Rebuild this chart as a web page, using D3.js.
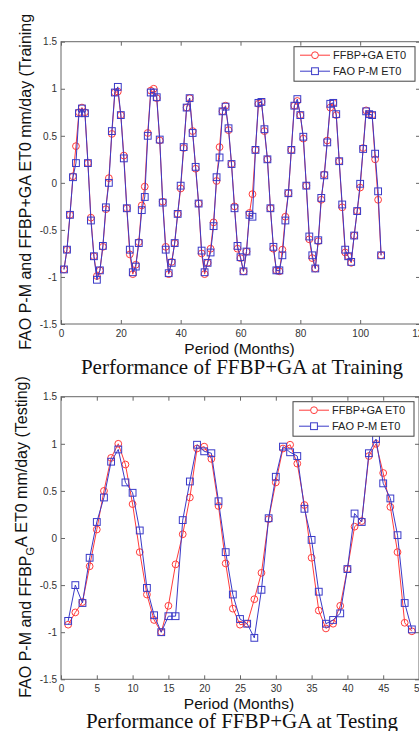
<!DOCTYPE html>
<html>
<head>
<meta charset="utf-8">
<script src="https://cdn.jsdelivr.net/npm/d3@7"></script>
<style>
  body { margin: 0; background: #fff; }
  text { font-family: "Liberation Sans", Arial, sans-serif; }
</style>
</head>
<body>
<svg id="chart" width="419" height="731"></svg>
<script>
// values, month 1..N
const trainFfbp = [
  -0.92, -0.71, -0.34, 0.07, 0.39, 0.75, 0.80, 0.75, 0.21, -0.37, -0.78, -0.99,
  -0.93, -0.68, -0.28, 0.05, 0.52, 0.96, 0.97, 0.72, 0.29, -0.27, -0.76, -0.97,
  -0.87, -0.63, -0.24, -0.04, 0.53, 0.98, 1.00, 0.90, 0.45, -0.20, -0.68, -0.97,
  -0.84, -0.64, -0.33, -0.06, 0.37, 0.80, 0.90, 0.55, 0.15, -0.22, -0.75, -0.97,
  -0.85, -0.70, -0.42, 0.02, 0.38, 0.76, 0.82, 0.56, 0.20, -0.25, -0.70, -0.80,
  -0.94, -0.73, -0.32, -0.12, 0.35, 0.84, 0.86, 0.55, 0.25, -0.27, -0.70, -0.93,
  -0.94, -0.71, -0.36, -0.11, 0.35, 0.82, 0.87, 0.72, 0.47, -0.03, -0.60, -0.80,
  -0.91, -0.62, -0.18, 0.09, 0.45, 0.80, 0.85, 0.72, 0.23, -0.26, -0.74, -0.78,
  -0.85, -0.56, -0.30, -0.05, 0.37, 0.77, 0.73, 0.72, 0.25, -0.18, -0.77
]
const trainFao = [
  -0.92, -0.71, -0.34, 0.06, 0.21, 0.74, 0.79, 0.74, 0.21, -0.40, -0.78, -1.03,
  -0.93, -0.67, -0.26, 0.00, 0.55, 0.96, 1.02, 0.72, 0.26, -0.27, -0.71, -0.95,
  -0.89, -0.64, -0.29, -0.15, 0.50, 0.96, 0.96, 0.91, 0.46, -0.21, -0.71, -0.96,
  -0.85, -0.64, -0.33, -0.03, 0.38, 0.80, 0.90, 0.53, 0.17, -0.22, -0.72, -0.95,
  -0.85, -0.74, -0.46, 0.06, 0.27, 0.76, 0.81, 0.58, 0.20, -0.27, -0.67, -0.79,
  -0.94, -0.73, -0.34, -0.36, 0.35, 0.85, 0.86, 0.57, 0.25, -0.27, -0.68, -0.93,
  -0.93, -0.77, -0.40, -0.11, 0.35, 0.82, 0.89, 0.72, 0.49, -0.03, -0.57, -0.77,
  -0.91, -0.61, -0.16, 0.08, 0.43, 0.84, 0.85, 0.73, 0.23, -0.23, -0.71, -0.78,
  -0.84, -0.56, -0.30, -0.01, 0.36, 0.76, 0.73, 0.72, 0.31, -0.09, -0.77
]
const testFfbp = [
  -0.92, -0.79, -0.68, -0.30, 0.09, 0.50, 0.85, 1.00, 0.78, 0.36, -0.15, -0.60,
  -0.87, -1.00, -0.72, -0.28, 0.04, 0.43, 0.95, 0.97, 0.84, 0.34, -0.27, -0.75,
  -0.92, -0.91, -0.65, -0.37, 0.20, 0.59, 0.95, 0.99, 0.79, 0.35, -0.21, -0.77,
  -0.96, -0.91, -0.72, -0.33, 0.12, 0.18, 0.87, 1.00, 0.69, 0.33, -0.15, -0.90,
  -0.99
]
const testFao = [
  -0.88, -0.50, -0.69, -0.21, 0.17, 0.43, 0.81, 0.94, 0.59, 0.48, 0.08, -0.53,
  -0.82, -1.00, -0.83, -0.83, 0.19, 0.60, 0.99, 0.92, 0.90, 0.39, -0.15, -0.60,
  -0.86, -0.91, -1.06, -0.55, 0.21, 0.65, 0.97, 0.91, 0.87, 0.31, -0.02, -0.57,
  -0.91, -0.87, -0.80, -0.33, 0.26, 0.17, 0.90, 1.05, 0.58, 0.42, 0.03, -0.69,
  -0.97
]
const yTicks = [-1.5, -1, -0.5, 0, 0.5, 1, 1.5]
const trainXTicks = [0, 20, 40, 60, 80, 100, 120]
const testXTicks = [0, 5, 10, 15, 20, 25, 30, 35, 40, 45, 50]
const legendLabels = ["FFBP+GA ET0", "FAO P-M ET0"]

const red = "#ff3b3b"
const blue = "#3a3ac8"
const svg = d3.select("#chart")

function drawPanel(p) {
  const x = d3.scaleLinear().domain([0, p.xMax]).range([p.left, p.right])
  const y = d3.scaleLinear().domain([-1.5, 1.5]).range([p.bottom, p.top])
  const g = svg.append("g")

  const styleAxis = sel => {
    sel.select(".domain").remove()
    sel.selectAll(".tick line").attr("stroke", "#666")
    sel.selectAll(".tick text").attr("fill", "#333").style("font-size", "10px")
  }

  g.append("g")
    .attr("transform", `translate(0,${p.bottom})`)
    .call(d3.axisBottom(x).tickValues(p.xTicks).tickSize(-4).tickPadding(6).tickFormat(d => String(d)))
    .call(styleAxis)
  g.append("g")
    .attr("transform", `translate(0,${p.top})`)
    .call(d3.axisTop(x).tickValues(p.xTicks).tickSize(-4).tickFormat(""))
    .call(styleAxis)
  g.append("g")
    .attr("transform", `translate(${p.left},0)`)
    .call(d3.axisLeft(y).tickValues(yTicks).tickSize(-4).tickPadding(4).tickFormat(d => String(d)))
    .call(styleAxis)
  g.append("g")
    .attr("transform", `translate(${p.right},0)`)
    .call(d3.axisRight(y).tickValues(yTicks).tickSize(-4).tickFormat(""))
    .call(styleAxis)

  g.append("rect")
    .attr("x", p.left).attr("y", p.top)
    .attr("width", p.right - p.left).attr("height", p.bottom - p.top)
    .attr("fill", "none").attr("stroke", "#666")

  const line = d3.line().x((d, i) => x(i + 1)).y(d => y(d))

  // FFBP+GA first, FAO P-M drawn over it
  g.append("path").datum(p.ffbp)
    .attr("d", line).attr("fill", "none").attr("stroke", red).attr("stroke-width", 1)
  g.selectAll(".ffbp").data(p.ffbp).enter().append("circle")
    .attr("cx", (d, i) => x(i + 1)).attr("cy", d => y(d)).attr("r", 3.4)
    .attr("fill", "none").attr("stroke", red).attr("stroke-width", 1)

  g.append("path").datum(p.fao)
    .attr("d", line).attr("fill", "none").attr("stroke", blue).attr("stroke-width", 1)
  g.selectAll(".fao").data(p.fao).enter().append("rect")
    .attr("x", (d, i) => x(i + 1) - 3.4).attr("y", d => y(d) - 3.4)
    .attr("width", 6.8).attr("height", 6.8)
    .attr("fill", "none").attr("stroke", blue).attr("stroke-width", 1)

  // legend
  const lg = g.append("g").attr("transform", `translate(${p.right - 126},${p.top + 5})`)
  lg.append("rect").attr("width", 121).attr("height", 34.5)
    .attr("fill", "#fff").attr("stroke", "#444").attr("stroke-width", 1)
  legendLabels.forEach((label, i) => {
    const ly = 8.5 + i * 16
    const c = i === 0 ? red : blue
    lg.append("line").attr("x1", 6).attr("x2", 36).attr("y1", ly).attr("y2", ly)
      .attr("stroke", c).attr("stroke-width", 1)
    if (i === 0) {
      lg.append("circle").attr("cx", 21).attr("cy", ly).attr("r", 3.4)
        .attr("fill", "#fff").attr("stroke", c)
    } else {
      lg.append("rect").attr("x", 17.6).attr("y", ly - 3.4).attr("width", 6.8).attr("height", 6.8)
        .attr("fill", "#fff").attr("stroke", c)
    }
    lg.append("text").attr("x", 39).attr("y", ly).attr("dy", "0.36em")
      .style("font-size", "11px").attr("fill", "#222").text(label)
  })

  // axis titles
  g.append("text")
    .attr("x", (p.left + p.right) / 2 - 1).attr("y", p.bottom + 29.5)
    .attr("text-anchor", "middle").style("font-size", "15.5px").attr("fill", "#111")
    .text("Period (Months)")

  const yl = g.append("text")
    .attr("transform", `translate(31,${(p.top + p.bottom) / 2 - 1}) rotate(-90)`)
    .attr("text-anchor", "middle").style("font-size", "16px").attr("fill", "#111")
  p.yLabel(yl)

  g.append("text")
    .attr("x", 242).attr("y", p.titleY)
    .attr("text-anchor", "middle")
    .style("font-family", "'Liberation Serif', 'Times New Roman', serif")
    .style("font-size", "21px").attr("fill", "#111")
    .text(p.title)
}

drawPanel({
  left: 61, right: 420, top: 41.7, bottom: 324, xMax: 120,
  xTicks: trainXTicks, ffbp: trainFfbp, fao: trainFao,
  titleY: 373.5, title: "Performance of FFBP+GA at Training",
  yLabel: t => t.text("FAO P-M and FFBP+GA ET0 mm/day (Training")
})

drawPanel({
  left: 61, right: 419, top: 396.7, bottom: 679.3, xMax: 50,
  xTicks: testXTicks, ffbp: testFfbp, fao: testFao,
  titleY: 727.5, title: "Performance of FFBP+GA at Testing",
  yLabel: t => {
    t.append("tspan").text("FAO P-M and FFBP")
    t.append("tspan").attr("dy", "0.3em").style("font-size", "11px").text("G")
    t.append("tspan").attr("dy", "-0.44em").text("A ET0 mm/day (Testing)")
  }
})
</script>
</body>
</html>
